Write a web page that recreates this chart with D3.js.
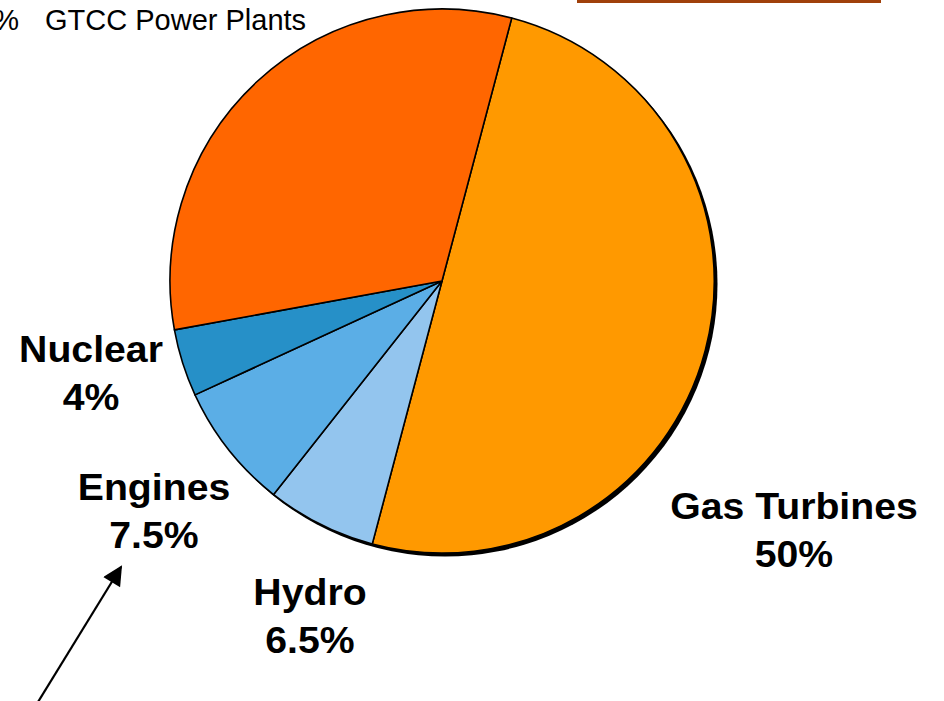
<!DOCTYPE html>
<html>
<head>
<meta charset="utf-8">
<script src="https://cdn.jsdelivr.net/npm/d3@7"></script>
<style>
  html, body { margin: 0; padding: 0; background: #fff; overflow: hidden; }
  svg { display: block; }
</style>
</head>
<body>
<svg id="chart" width="944" height="701"></svg>
<script>
// ---- data ----
const categories = ["Gas Turbines", "Hydro", "Engines", "Nuclear", "GTCC Power Plants"];
const values     = [50, 6.5, 7.5, 4, 32];
const colors     = ["#FF9900", "#93C5EE", "#5BAEE6", "#2690C8", "#FF6600"];

// label layout (positions only)
const labelPos = [
  {x: 794, y: 519},   // Gas Turbines
  {x: 310, y: 605},   // Hydro
  {x: 154, y: 500},   // Engines
  {x: 91,  y: 362}    // Nuclear
];

const W = 944, H = 701;
const cx = 442, cy = 281, R = 272;
const svg = d3.select("#chart");

// brown bar at the top right
svg.append("rect").attr("x", 577).attr("y", -2).attr("width", 304).attr("height", 5)
  .attr("fill", "#A0400A");

// top-left caption (partially cut off)
svg.append("text").attr("x", 19).attr("y", 30).attr("text-anchor", "end")
  .attr("font-family", "Liberation Sans, Arial, sans-serif").attr("font-size", 29)
  .attr("fill", "#000").text("%");
svg.append("text").attr("x", 45).attr("y", 30)
  .attr("font-family", "Liberation Sans, Arial, sans-serif").attr("font-size", 29)
  .attr("fill", "#000").text(categories[4]);

const start = 14.85 * Math.PI / 180;
const pie = d3.pie().sort(null).value(d => d.v).startAngle(start).endAngle(start + 2 * Math.PI);
const data = categories.map((c, i) => ({c, v: values[i], col: colors[i]}));
const arcs = pie(data);
const arc = d3.arc().innerRadius(0).outerRadius(R);

const g = svg.append("g").attr("transform", `translate(${cx},${cy})`);
// drop shadow
g.append("circle").attr("cx", 3).attr("cy", 3).attr("r", R + 0.5).attr("fill", "#000");
g.selectAll("path.slice").data(arcs).join("path")
  .attr("class", "slice")
  .attr("d", arc)
  .attr("fill", d => d.data.col)
  .attr("stroke", "#000")
  .attr("stroke-width", 1.6)
  .attr("stroke-linejoin", "round");

// labels
const fmt = v => (Number.isInteger(v) ? v.toString() : v.toFixed(1)) + "%";
labelPos.forEach((p, i) => {
  const t = svg.append("text")
    .attr("transform", `translate(${p.x},${p.y}) scale(1.06,1)`)
    .attr("text-anchor", "middle")
    .attr("font-family", "Liberation Sans, Arial, sans-serif")
    .attr("font-weight", "bold")
    .attr("font-size", 37)
    .attr("fill", "#000");
  t.append("tspan").attr("x", 0).attr("y", 0).text(categories[i]);
  t.append("tspan").attr("x", 0).attr("y", 48.5).text(fmt(values[i]));
});

// arrow
const defs = svg.append("defs");
defs.append("marker").attr("id", "ah").attr("viewBox", "0 0 10 10")
  .attr("refX", 9).attr("refY", 5).attr("markerWidth", 11).attr("markerHeight", 9)
  .attr("markerUnits", "strokeWidth").attr("orient", "auto")
  .append("path").attr("d", "M0,0 L10,5 L0,10 z").attr("fill", "#000");
svg.append("line").attr("x1", 38).attr("y1", 702).attr("x2", 121).attr("y2", 567)
  .attr("stroke", "#000").attr("stroke-width", 2.2).attr("marker-end", "url(#ah)");
</script>
</body>
</html>
